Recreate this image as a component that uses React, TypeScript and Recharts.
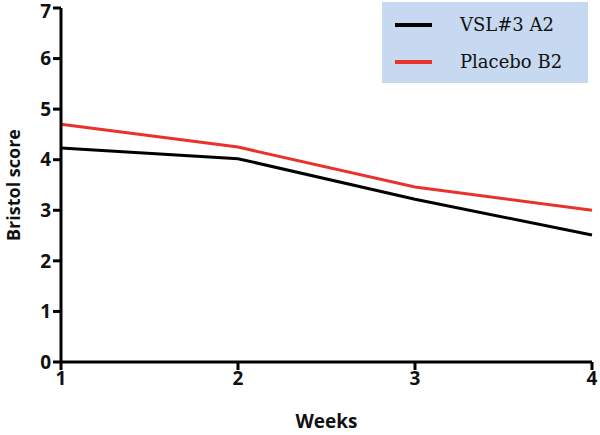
import React from "react";
import { LineChart, Line, XAxis, YAxis } from "recharts";

const weeks = [1, 2, 3, 4];
const vslA2 = [4.23, 4.02, 3.22, 2.51];
const placeboB2 = [4.7, 4.25, 3.46, 3.0];
const yTicks = [0, 1, 2, 3, 4, 5, 6, 7];

const seriesNames = ["VSL#3 A2", "Placebo B2"];
const seriesColors = ["#000000", "#e8332c"];

const data = weeks.map((w, i) => ({
  week: w,
  vsl: vslA2[i],
  placebo: placeboB2[i],
}));

const FONT = "'Open Sans', 'Liberation Sans', sans-serif";

const LegendBox = () => (
  <div
    style={{
      position: "absolute",
      left: 382,
      top: 2,
      background: "#c6d9f1",
      width: 206,
      height: 81,
      fontFamily: "'DejaVu Serif', 'Liberation Serif', serif",
      fontSize: 18,
      color: "#111",
      boxSizing: "border-box",
      paddingTop: 4,
    }}
  >
    {seriesNames.map((name, i) => (
      <div key={name} style={{ display: "flex", alignItems: "center", height: 37 }}>
        <span
          style={{
            display: "inline-block",
            width: 37,
            height: 4,
            background: seriesColors[i],
            marginLeft: 13,
            marginRight: 28,
          }}
        />
        <span>{name}</span>
      </div>
    ))}
  </div>
);

export default function App() {
  return (
    <div style={{ position: "relative", width: 600, height: 435, background: "#fff" }}>
      <style>{"body{margin:0}"}</style>
      <LineChart
        width={600}
        height={435}
        data={data}
        margin={{ top: 8, right: 8, left: 0, bottom: 0 }}
      >
        <XAxis
          dataKey="week"
          type="number"
          domain={[1, 4]}
          ticks={weeks}
          height={73}
          axisLine={{ stroke: "#000", strokeWidth: 3 }}
          tickLine={{ stroke: "#000", strokeWidth: 3 }}
          tickSize={8}
          tick={{ fill: "#111", fontSize: 19, fontWeight: 700, fontFamily: FONT }}
          label={{
            value: "Weeks",
            position: "insideBottom",
            offset: 7,
            fill: "#111",
            fontSize: 19,
            fontWeight: 700,
            fontFamily: FONT,
          }}
        />
        <YAxis
          type="number"
          domain={[0, 7]}
          ticks={yTicks}
          width={61}
          axisLine={{ stroke: "#000", strokeWidth: 3 }}
          tickLine={{ stroke: "#000", strokeWidth: 3 }}
          tickSize={8}
          tick={{ fill: "#111", fontSize: 19, fontWeight: 700, fontFamily: FONT }}
          label={{
            value: "Bristol score",
            angle: -90,
            position: "insideLeft",
            offset: 14,
            style: { textAnchor: "middle" },
            fill: "#111",
            fontSize: 18,
            fontWeight: 700,
            fontFamily: FONT,
          }}
        />
        <Line
          type="linear"
          dataKey="vsl"
          name={seriesNames[0]}
          stroke={seriesColors[0]}
          strokeWidth={3}
          dot={false}
          isAnimationActive={false}
        />
        <Line
          type="linear"
          dataKey="placebo"
          name={seriesNames[1]}
          stroke={seriesColors[1]}
          strokeWidth={3}
          dot={false}
          isAnimationActive={false}
        />
      </LineChart>
      <LegendBox />
    </div>
  );
}
